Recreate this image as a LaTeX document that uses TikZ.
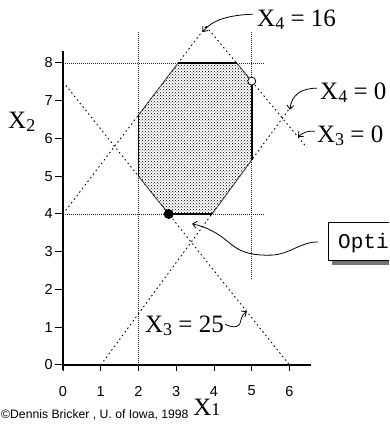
\documentclass[tikz,border=0pt]{standalone}
\usepackage{fontspec}
\setmainfont{Liberation Serif}
\newfontfamily\genevafont{Liberation Sans}
\newfontfamily\monofont{Liberation Mono}
\usetikzlibrary{arrows.meta,patterns}
\newcommand{\Xsub}[2][-3pt]{X\raisebox{#1}{\fontsize{18}{18}\selectfont #2}}
\begin{document}
\begin{tikzpicture}[x=37.75pt,y=37.75pt,
  axisline/.style={line width=1.5pt},
  gridline/.style={line width=0.8pt, dash pattern=on 1pt off 1pt, black!85},
  conline/.style={line width=0.9pt, dash pattern=on 1.5pt off 3pt},
  edgeline/.style={line width=1.5pt},
  lab/.style={inner sep=0pt, font=\fontsize{25}{25}\selectfont, anchor=base west},
  ticklab/.style={inner sep=0pt, font=\genevafont\fontsize{14.5}{14.5}\selectfont},
  callout/.style={line width=0.8pt, -{Straight Barb[length=4pt,width=7pt]}}
]
\useasboundingbox (-63pt,-62pt) rectangle (326pt,365pt);

% feasible region
\coordinate (v1) at (2,5);
\coordinate (v2) at (2,6.62);
\coordinate (v3) at (3.05,8);
\coordinate (v4) at (4.6,8);
\coordinate (v5) at (5,7.52);
\coordinate (v6) at (5,5.43);
\coordinate (v7) at (3.95,4);
\coordinate (v8) at (2.8,4);
\fill[pattern=crosshatch dots, pattern color=black] (v1)--(v2)--(v3)--(v4)--(v5)--(v6)--(v7)--(v8)--cycle;

% dotted lines
\draw[gridline] (2,8.82) -- (2,0);
\draw[gridline] (5,8.82) -- (5,2.30);
\draw[gridline] (0,8) -- (5.35,8);
\draw[gridline] (0,4) -- (5.30,4);

% constraint lines
\coordinate (peak) at (3.79,8.97);
\draw[conline] (0,4) -- (peak);
\draw[conline] (peak) -- (6.46,5.76);
\draw[conline] (1,0) -- (6.05,6.86);
\draw[conline] (0,7.5) -- (6,0);

% region border
\draw[line width=0.8pt, black!75] (v1)--(v2)--(v3)--(v4)--(v5)--(v6)--(v7)--(v8)--cycle;
\draw[edgeline] (v1)--(v2);
\draw[edgeline] (v3)--(v4);
\draw[edgeline] (v5)--(v6);
\draw[edgeline] (v7)--(v8);

% axes
\draw[axisline] (0,-0.14) -- (0,8.33);
\draw[axisline] (0,0) -- (6.57,0);
\foreach \i in {0,...,6} {
  \draw[line width=1pt] (\i,0) -- (\i,-0.15);
  \node[ticklab] (xt\i) at (\i,-0.69) {\i};
}
\foreach \i in {0,...,8} {
  \draw[line width=1pt] (0,\i) -- (-0.2,\i);
  \node[ticklab, anchor=east] (yt\i) at (-0.265,\i) {\i};
}

% points
\node[circle, fill=black, inner sep=0pt, minimum size=10pt] (optpt) at (v8) {};
\node[circle, draw=black, fill=white, line width=0.8pt, inner sep=0pt, minimum size=8pt] (cornpt) at (v5) {};

% axis labels
\node[lab] (xtwo) at (-1.457,6.252) {\Xsub{2}};
\node[lab] (xone) at (3.45,-1.325) {\Xsub[0pt]{1}};
\node[inner sep=0pt, anchor=base west, font=\genevafont\fontsize{12.2}{12.2}\selectfont] (copy) at (-62pt,-1.404) {©Dennis Bricker , U. of Iowa, 1998};

% labels with callouts
\node[lab] (l16) at (5.139,8.954) {\Xsub{4} = 16};
\coordinate (t16) at (3.70,8.82);
\draw[callout] ([xshift=-4pt,yshift=6pt]l16.west) .. controls (4.42,9.27) and (3.95,9.15) .. (t16);

\node[lab] (l40) at (6.808,7.020) {\Xsub{4} = 0};
\coordinate (t40) at (6.01,6.76);
\draw[callout] ([xshift=-3pt,yshift=5pt]l40.west) .. controls (6.30,7.33) and (6.05,7.15) .. (t40);

\node[lab] (l30) at (6.728,5.907) {\Xsub{3} = 0};
\coordinate (t30) at (6.225,6.04);
\draw[callout] ([xshift=-2pt,yshift=4pt]l30.west) .. controls (6.49,6.21) and (6.35,6.16) .. (t30);

\node[lab] (l25) at (2.172,0.874) {\Xsub{3} = 25};
\coordinate (t25) at (4.87,1.42);
\draw[callout] ([xshift=1pt,yshift=1pt]l25.east) .. controls (4.45,1.0) and (4.62,0.98) .. (4.68,1.08) .. controls (4.72,1.18) and (4.72,1.32) .. (t25);

% optimal callout box
\node[inner sep=0pt, anchor=base west, font=\monofont\fontsize{21}{21}\selectfont] (optlab) at (275pt,3.099) {Opti};
\fill[black!55] (7.126,2.755) rectangle (8.636,2.649);
\draw[line width=1pt] (8.636,3.762) -| (7.02,2.755) -- (8.636,2.755);
\coordinate (boxl) at (6.755,3.258);
\coordinate (topt) at (3.42,3.74);
\draw[callout] (boxl) .. controls (6.30,3.27) and (6.0,2.92) .. (5.5,2.91) .. controls (5.1,2.90) and (4.75,2.95) .. (4.45,3.2) .. controls (4.1,3.5) and (3.8,3.66) .. (topt);
\end{tikzpicture}
\end{document}
